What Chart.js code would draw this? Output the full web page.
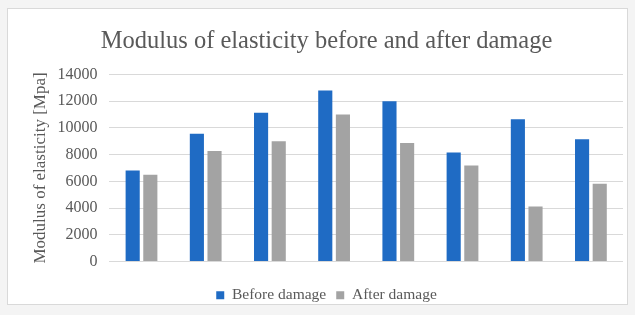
<!DOCTYPE html>
<html lang="en">
<head>
<meta charset="UTF-8">
<title>Modulus of elasticity</title>
<script src="https://cdn.jsdelivr.net/npm/chart.js"></script>
<style>
  body { margin: 0; background: #f4f4f4; }
  #box { position: absolute; left: 7px; top: 8px; width: 619px; height: 295px; background: #fff; border: 1px solid #d9d9d9; }
  #wrap { position: absolute; left: 0; top: 0; width: 635px; height: 315px; }
</style>
</head>
<body>
<div id="box"></div>
<div id="wrap"><canvas id="elasticChart" width="635" height="315"></canvas></div>
<script>
  // values (MPa)
  const samples = ['1', '2', '3', '4', '5', '6', '7', '8'];
  const beforeDamage = [6800, 9550, 11130, 12800, 12000, 8160, 10650, 9150];
  const afterDamage = [6490, 8260, 9000, 11000, 8860, 7190, 4120, 5810];
  const yTicks = [0, 2000, 4000, 6000, 8000, 10000, 12000, 14000];

  const serif = '"Liberation Serif", "DejaVu Serif", serif';

  const ctx = document.getElementById('elasticChart').getContext('2d');
  new Chart(ctx, {
    type: 'bar',
    data: {
      labels: samples,
      datasets: [
        { label: 'Before damage', data: beforeDamage, backgroundColor: '#1f6bc4' },
        { label: 'After damage', data: afterDamage, backgroundColor: '#a3a3a3' }
      ]
    },
    options: {
      responsive: false,
      animation: false,
      layout: { padding: { top: 27, left: 30, right: 12, bottom: 2 } },
      datasets: { bar: { categoryPercentage: 0.55, barPercentage: 0.8 } },
      plugins: {
        title: {
          display: true,
          text: 'Modulus of elasticity before and after damage',
          color: '#595959',
          font: { family: serif, size: 24.5, weight: 'normal' },
          padding: { top: 0, bottom: 18 }
        },
        legend: {
          position: 'bottom',
          labels: {
            color: '#595959',
            font: { family: serif, size: 15.5 },
            boxWidth: 8,
            boxHeight: 8,
            padding: 10
          }
        },
        tooltip: { enabled: false }
      },
      scales: {
        x: {
          // hidden grid, tick length only reserves the gap above the legend
          grid: { display: false, drawTicks: true, tickLength: 16 },
          border: { display: false },
          ticks: { display: false }
        },
        y: {
          min: 0,
          max: 14000,
          afterBuildTicks: (axis) => { axis.ticks = yTicks.map(v => ({ value: v })); },
          grid: { color: '#d9d9d9', drawTicks: false },
          border: { display: false },
          ticks: {
            color: '#595959',
            font: { family: serif, size: 16 },
            padding: 12,
            callback: (v) => String(v)
          },
          title: {
            display: true,
            text: 'Modulus of elasticity [Mpa]',
            color: '#595959',
            font: { family: serif, size: 17 },
            padding: { top: 0, bottom: -5 }
          }
        }
      }
    }
  });
</script>
</body>
</html>
